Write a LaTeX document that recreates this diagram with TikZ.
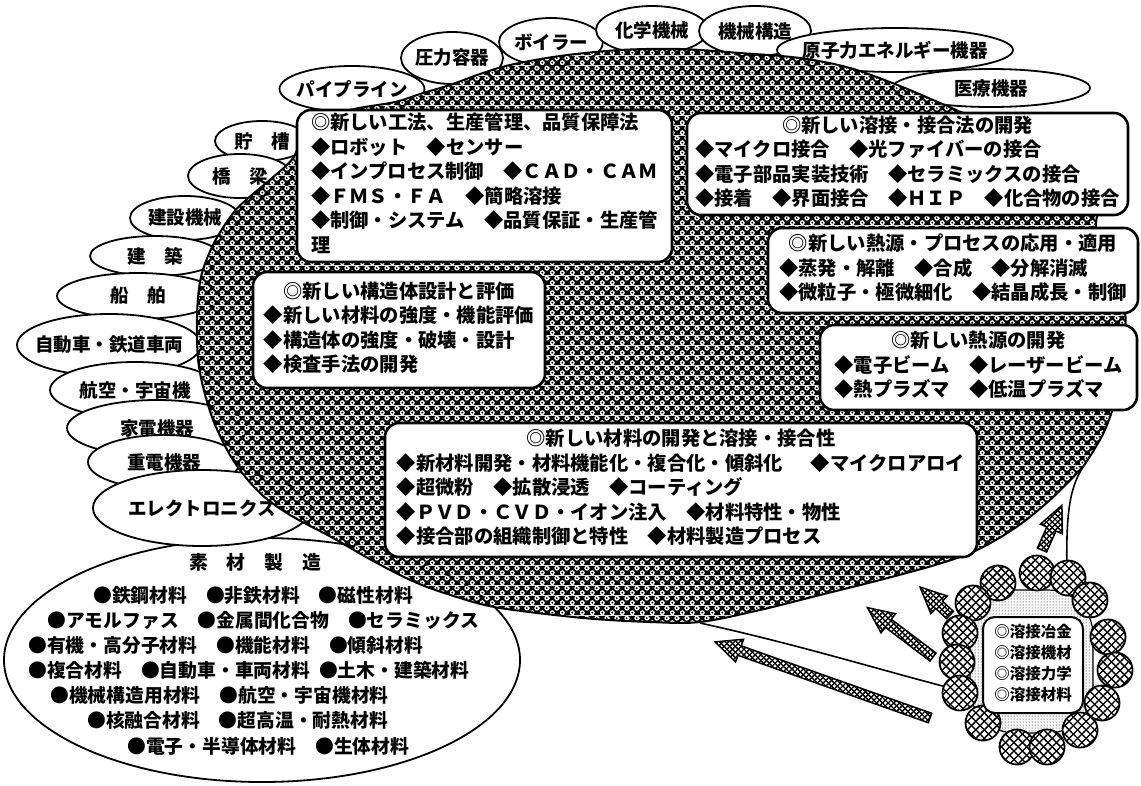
\documentclass[tikz,border=0pt]{standalone}
\usepackage{fontspec}
\setmainfont{Noto Sans CJK JP}
\usetikzlibrary{shapes.geometric,patterns,patterns.meta}

\tikzdeclarepattern{
  name=blobdots, type=colored,
  bounding box={(0pt,0pt) and (10pt,10pt)},
  tile size={(10pt,10pt)},
  code={
    \fill[black] (0pt,0pt) rectangle (10pt,10pt);
    \fill[white] (2.5pt,2.5pt) circle [radius=2.75pt];
    \fill[white] (7.5pt,7.5pt) circle [radius=2.75pt];
    \fill[black] (2.5pt,2.5pt) circle [radius=1.1pt];
    \fill[black] (7.5pt,7.5pt) circle [radius=1.1pt];
  }
}
\tikzdeclarepattern{
  name=netlines, type=uncolored,
  bounding box={(-0.5pt,-0.5pt) and (6.5pt,6.5pt)},
  tile size={(6pt,6pt)},
  tile transformation={rotate=45},
  code={
    \draw[line width=1.3pt] (-0.5pt,3pt) -- (6.5pt,3pt);
    \draw[line width=1.3pt] (3pt,-0.5pt) -- (3pt,6.5pt);
  }
}
\tikzdeclarepattern{
  name=netfine, type=uncolored,
  bounding box={(-0.5pt,-0.5pt) and (4.5pt,4.5pt)},
  tile size={(4pt,4pt)},
  tile transformation={rotate=45},
  code={
    \draw[line width=1.2pt] (-0.5pt,2pt) -- (4.5pt,2pt);
    \draw[line width=1.2pt] (2pt,-0.5pt) -- (2pt,4.5pt);
  }
}

\newcommand{\lab}[1]{\makebox[0pt][c]{#1}}
\newcommand{\fatarrow}[4]{%
  \begin{scope}[shift={(#1,#2)}, rotate=#3]
    \path[arrowbody] (0,-5) -- ({#4-26},-5) -- ({#4-26},-12) -- (#4,0)
      -- ({#4-26},12) -- ({#4-26},5) -- (0,5) -- cycle;
  \end{scope}}

\tikzset{
  ell/.style={ellipse, draw, line width=1.8pt, fill=white, inner sep=0pt,
    font=\fontsize{18.5}{20}\selectfont\bfseries},
  box/.style={draw, line width=2.6pt, rounded corners=14pt, fill=white,
    inner sep=0pt, font=\fontsize{19.3}{24.5}\selectfont\bfseries},
  matline/.style={inner sep=0pt, anchor=west,
    font=\fontsize{18.8}{22}\selectfont\bfseries},
  conn/.style={line width=1.6pt},
  ball/.style={circle, draw, line width=1.8pt, minimum size=35pt, inner sep=0pt,
    preaction={fill=white}, pattern=netlines},
  arrowbody/.style={draw, line width=1.5pt, preaction={fill=white}, pattern=netfine},
  cbox/.style={draw, line width=2pt, rounded corners=12pt, fill=white, inner sep=0pt,
    font=\fontsize{15.5}{21}\selectfont\bfseries}
}

\begin{document}
\begin{tikzpicture}[x=1pt,y=-1pt]
\fill[white] (0,0) rectangle (1141,785);
\useasboundingbox (0,0) rectangle (1141,785);

% ---------- outer ellipses ----------
\node[ell, minimum width=516pt, minimum height=244pt] (sozai) at (262,660) {};

\node[ell, minimum width=145pt, minimum height=46pt] (pipe) at (352,89) {\lab{パイプライン}};
\node[ell, minimum width=102pt, minimum height=52pt] (pres) at (452,58) {\lab{圧力容器}};
\node[ell, minimum width=104pt, minimum height=48pt] (boil) at (551,42) {\lab{ボイラー}};
\node[ell, minimum width=112pt, minimum height=48pt] (chem) at (652,30) {\lab{化学機械}};
\node[ell, minimum width=112pt, minimum height=50pt] (mech) at (755,31) {\lab{機械構造}};
\node[ell, minimum width=236pt, minimum height=44pt] (nucl) at (895,50) {\lab{原子力エネルギー機器}};
\node[ell, minimum width=198pt, minimum height=38pt] (med) at (991,88) {\lab{医療機器}};

\node[ell, minimum width=94pt, minimum height=40pt] (tank) at (262,141) {\lab{貯　槽}};
\node[ell, minimum width=104pt, minimum height=44pt] (brid) at (240,176) {\lab{橋　梁}};
\node[ell, minimum width=110pt, minimum height=44pt] (cons) at (185,218) {\lab{建設機械}};
\node[ell, minimum width=130pt, minimum height=40pt] (arch) at (155,256) {\lab{建　築}};
\node[ell, minimum width=162pt, minimum height=46pt] (ship) at (138,296) {\lab{船　舶}};
\node[ell, minimum width=184pt, minimum height=62pt] (auto) at (109,345) {\lab{自動車・鉄道車両}};
\node[ell, minimum width=170pt, minimum height=56pt] (aero) at (135,390) {\lab{航空・宇宙機}};
\node[ell, minimum width=180pt, minimum height=56pt] (home) at (157,428) {\lab{家電機器}};
\node[ell, minimum width=152pt, minimum height=54pt] (heavy) at (164,462) {\lab{重電機器}};
\node[ell, minimum width=218pt, minimum height=76pt] (elec) at (202,508) {\lab{エレクトロニクス}};

% ---------- material list ----------
\node[inner sep=0pt, font=\fontsize{18.8}{22}\selectfont\bfseries] (mt) at (255,562) {素　材　製　造};
\node[matline] (m1) at (93,595) {●鉄鋼材料　●非鉄材料　●磁性材料};
\node[matline] (m2) at (47,620) {●アモルファス　●金属間化合物　●セラミックス};
\node[matline] (m3) at (28,645) {●有機・高分子材料　●機能材料　●傾斜材料};
\node[matline] (m4) at (28,670) {●複合材料　●自動車・車両材料\hspace{9pt}●土木・建築材料};
\node[matline] (m5) at (50,695) {●機械構造用材料　●航空・宇宙機材料};
\node[matline] (m6) at (87,720) {●核融合材料　●超高温・耐熱材料};
\node[matline] (m7) at (127,746) {●電子・半導体材料　●生体材料};

% ---------- hatched region ----------
\path[draw, line width=2pt, pattern=blobdots] plot[smooth, tension=0.55] coordinates {
 (1083,467) (1104,432) (1118,390) (1125,340) (1124,300) (1112,262) (1096,228)
 (1104,190) (1108,150) (1090,128) (1040,122) (975,116) (945,105) (900,86)
 (850,68) (800,58) (740,53) (680,49) (620,50) (560,56) (510,65) (480,74)
 (450,85) (423,93) (395,102) (350,110) (310,125) (293,158) (272,178) (253,194)
 (234,212) (214,243) (201,277) (197,317) (199,367) (212,417) (233,460)
 (260,493) (290,515) (333,538) (375,562) (417,583) (460,598) (500,608)
 (583,618) (650,622) (700,622) (760,610) (820,595) (880,580) (935,565)
 (975,551) (1015,528) (1050,500) (1083,467)} -- cycle;

% ---------- boxes ----------
\node[box, minimum width=375pt, minimum height=152pt] (boxA) at (484.5,186) {%
\begin{tabular}{@{}l@{}}
◎新しい工法、生産管理、品質保障法\\
◆ロボット　◆センサー\\
◆インプロセス制御　◆ＣＡＤ・ＣＡＭ\\
◆ＦＭＳ・ＦＡ　◆簡略溶接\\
◆制御・システム　◆品質保証・生産管\\
理
\end{tabular}};

\node[box, minimum width=441pt, minimum height=102pt] (boxB) at (907.5,164) {%
\begin{tabular}{@{}l@{}}
\multicolumn{1}{@{}c@{}}{◎新しい溶接・接合法の開発}\\
◆マイクロ接合　◆光ファイバーの接合\\
◆電子部品実装技術　◆セラミックスの接合\\
◆接着　◆界面接合　◆ＨＩＰ　◆化合物の接合
\end{tabular}};

\node[box, minimum width=370pt, minimum height=85pt] (boxC) at (953,270.5) {%
\begin{tabular}{@{}l@{}}
\multicolumn{1}{@{}c@{}}{◎新しい熱源・プロセスの応用・適用}\\
◆蒸発・解離　◆合成　◆分解消滅\\
◆微粒子・極微細化　◆結晶成長・制御
\end{tabular}};

\node[box, minimum width=317pt, minimum height=85pt] (boxD) at (978.5,367.5) {%
\begin{tabular}{@{}l@{}}
\multicolumn{1}{@{}c@{}}{◎新しい熱源の開発}\\
◆電子ビーム　◆レーザービーム\\
◆熱プラズマ　◆低温プラズマ
\end{tabular}};

\node[box, minimum width=292pt, minimum height=116pt] (boxE) at (399,330) {%
\begin{tabular}{@{}l@{}}
\multicolumn{1}{@{}c@{}}{◎新しい構造体設計と評価}\\
◆新しい材料の強度・機能評価\\
◆構造体の強度・破壊・設計\\
◆検査手法の開発
\end{tabular}};

\node[box, minimum width=592pt, minimum height=134pt] (boxF) at (681,490) {%
\begin{tabular}{@{}l@{}}
\multicolumn{1}{@{}c@{}}{◎新しい材料の開発と溶接・接合性}\\
◆新材料開発・材料機能化・複合化・傾斜化\hspace{28pt}◆マイクロアロイ\\
◆超微粉　◆拡散浸透　◆コーティング\\
◆ＰＶＤ・ＣＶＤ・イオン注入　◆材料特性・物性\\
◆接合部の組織制御と特性　◆材料製造プロセス
\end{tabular}};

% ---------- fan lines from the cluster ----------
\coordinate (fanL) at (700,623);
\coordinate (fanR) at (958,690);
\coordinate (tip) at (1083,467);
\coordinate (upR) at (1067,575);
\draw[conn] (fanL) .. controls (800,645) and (880,670) .. (fanR);
\draw[conn] (upR) .. controls (1066,520) and (1068,490) .. (tip);

% ---------- cluster ----------
\node[draw, line width=1.2pt, rounded corners=45pt, preaction={fill=white}, pattern=dots,
      minimum width=123pt, minimum height=143pt] (ring) at (1031.5,661.5) {};
\foreach \i/\cx/\cy in {1/1037/573, 2/998/583, 3/973/603, 4/1068/578, 5/1090/600,
   6/960/633, 7/1108/637, 8/957/662, 9/1115/670, 10/960/693, 11/1102/703,
   12/983/723, 13/1080/730, 14/1017/747, 15/1047/747}
  \node[ball] (b\i) at (\cx,\cy) {};
\node[cbox, minimum width=100pt, minimum height=96pt] (core) at (1033,665) {%
\begin{tabular}{@{}l@{}}
◎溶接冶金\\ ◎溶接機材\\ ◎溶接力学\\ ◎溶接材料
\end{tabular}};

% ---------- hatched arrows ----------
\fatarrow{1042}{550}{66}{49}
\fatarrow{950}{615}{137}{41}
\fatarrow{933}{657}{143}{82}
\fatarrow{930}{718}{160.5}{228}

\end{tikzpicture}
\end{document}
